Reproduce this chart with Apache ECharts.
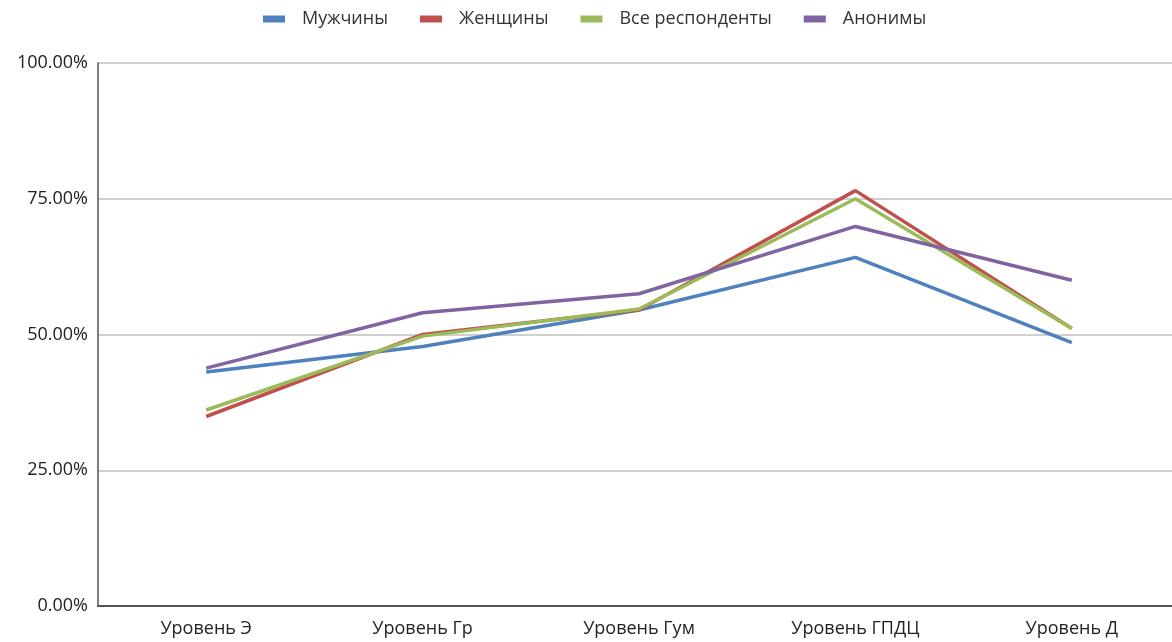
<!DOCTYPE html>
<html>
<head>
<meta charset="utf-8">
<script src="https://cdn.jsdelivr.net/npm/echarts@6/dist/echarts.min.js"></script>
<style>
html,body{margin:0;padding:0;background:#fff;}
#chart{width:1172px;height:642px;}
</style>
</head>
<body>
<div id="chart"></div>
<script>
const categories = ['Уровень Э', 'Уровень Гр', 'Уровень Гум', 'Уровень ГПДЦ', 'Уровень Д'];
const seriesNames = ['Мужчины', 'Женщины', 'Все респонденты', 'Анонимы'];
const men = [0.431, 0.478, 0.545, 0.642, 0.485];
const women = [0.349, 0.500, 0.545, 0.765, 0.511];
const all = [0.361, 0.497, 0.547, 0.750, 0.511];
const anon = [0.438, 0.540, 0.575, 0.699, 0.600];
const yTicks = [0, 0.25, 0.5, 0.75, 1];
const colors = ['#4F81BD', '#C0504D', '#9BBB59', '#8064A2'];

const font = '"Open Sans", "Noto Sans", sans-serif';
const chart = echarts.init(document.getElementById('chart'), null, {renderer: 'canvas'});
const dataList = [men, women, all, anon];
chart.setOption({
  animation: false,
  color: colors,
  textStyle: {fontFamily: font},
  legend: {
    top: 5,
    left: 258,
    itemWidth: 22,
    itemHeight: 7,
    itemGap: 32,
    icon: 'rect',
    textStyle: {fontSize: 18, color: '#333', fontFamily: font, padding: [0, 0, 0, 12]},
    data: seriesNames
  },
  grid: {left: 98, top: 63, right: -8, bottom: 36, containLabel: false, outerBoundsMode: 'none'},
  xAxis: {
    type: 'category',
    data: categories,
    boundaryGap: true,
    axisLine: {lineStyle: {color: '#555', width: 2}},
    axisTick: {show: false},
    axisLabel: {fontSize: 18, color: '#222', margin: 14, fontFamily: font}
  },
  yAxis: {
    type: 'value',
    min: yTicks[0],
    max: yTicks[yTicks.length - 1],
    interval: 0.25,
    axisLine: {show: true, lineStyle: {color: '#555', width: 1.5}},
    axisTick: {show: false},
    splitLine: {lineStyle: {color: '#cfcfcf', width: 2}},
    axisLabel: {
      fontSize: 18, color: '#222', margin: 10, fontFamily: font,
      formatter: v => (v * 100).toFixed(2) + '%'
    }
  },
  series: seriesNames.map((n, i) => ({
    name: n,
    type: 'line',
    data: dataList[i],
    symbol: 'none',
    lineStyle: {width: 3.5, color: colors[i]},
    itemStyle: {color: colors[i]}
  }))
});
</script>
</body>
</html>
